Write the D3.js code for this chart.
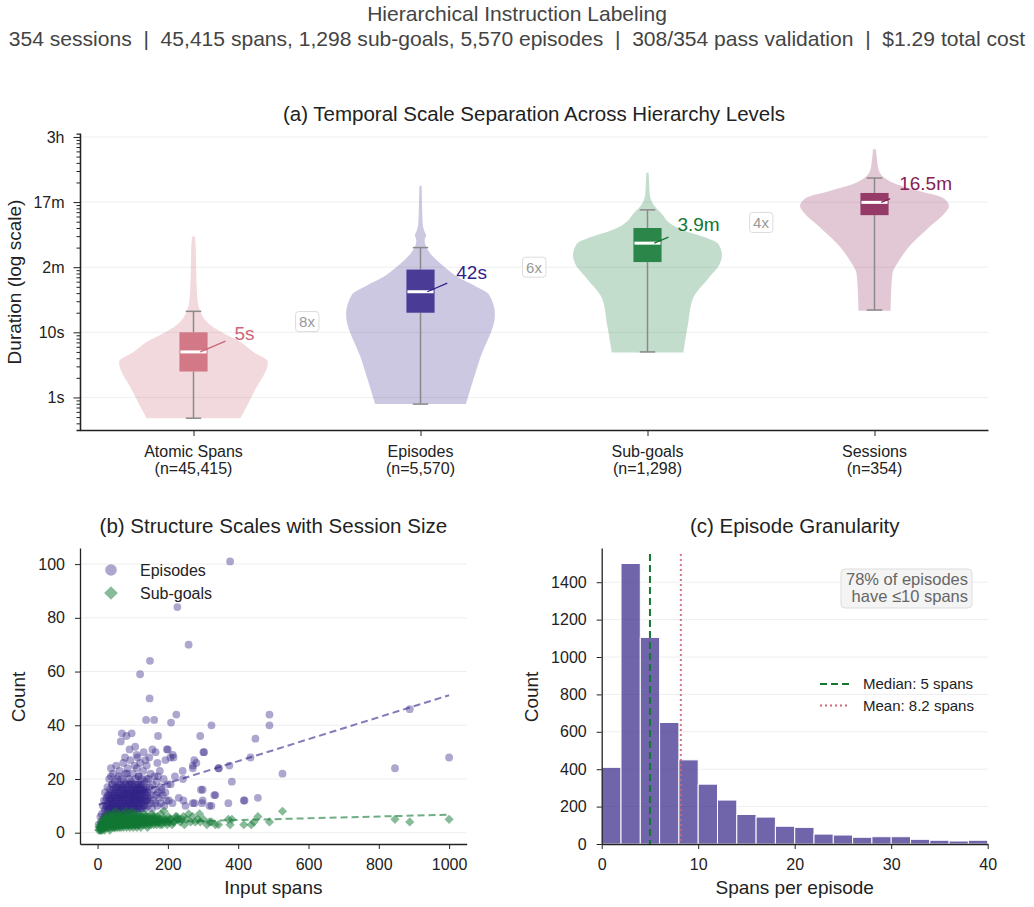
<!DOCTYPE html>
<html>
<head>
<meta charset="utf-8">
<script src="https://cdn.jsdelivr.net/npm/d3@7"></script>
<style>
  body { margin: 0; background: #fff; }
  svg { font-family: 'Liberation Sans', Arial, Helvetica, sans-serif; }
</style>
</head>
<body>
<svg id="chart" width="1034" height="907"></svg>
<script>
/* Chart data
--------------------------------------------------- */
const titleLine = 'Hierarchical Instruction Labeling';
const summaryLine = '354 sessions  |  45,415 spans, 1,298 sub-goals, 5,570 episodes  |  308/354 pass validation  |  $1.29 total cost';

// (a) durations in seconds
const levels = ['Atomic Spans', 'Episodes', 'Sub-goals', 'Sessions'];
const levelCounts = ['(n=45,415)', '(n=5,570)', '(n=1,298)', '(n=354)'];
const levelColors = ['#CC6677', '#332288', '#117733', '#882255'];
const whiskerLow = [0.48, 0.79, 5, 22];
const quartile1 = [2.5, 20, 120, 630];
const medians = [5, 42, 234, 990];
const quartile3 = [10, 92, 400, 1380];
const whiskerHigh = [21, 200, 760, 2340];

// violin outlines: [log10 seconds, relative density]
const atomicProfile = [[-0.32, 0.63], [0.1, 0.82], [0.545, 1.0], [0.7, 0.8], [0.85, 0.63], [1.0, 0.38], [1.1, 0.24], [1.2, 0.15], [1.3, 0.1], [1.45, 0.06], [1.65, 0.045], [2.0, 0.035], [2.3, 0.03], [2.47, 0.02]];
const episodeProfile = [[-0.1, 0.61], [0.6, 0.8], [1.275, 1.0], [1.58, 0.92], [1.72, 0.72], [1.85, 0.5], [1.95, 0.38], [2.05, 0.275], [2.15, 0.18], [2.23, 0.12], [2.33, 0.07], [2.41, 0.055], [2.49, 0.075], [2.56, 0.05], [2.66, 0.03], [2.9, 0.022], [3.25, 0.015]];
const subgoalProfile = [[0.69, 0.48], [1.1, 0.54], [1.52, 0.61], [1.82, 0.81], [2.05, 0.97], [2.18, 1.0], [2.36, 0.95], [2.46, 0.77], [2.56, 0.5], [2.66, 0.32], [2.82, 0.19], [2.97, 0.075], [3.12, 0.03], [3.3, 0.022], [3.45, 0.015]];
const sessionProfile = [[1.33, 0.215], [1.9, 0.24], [2.1, 0.33], [2.31, 0.46], [2.61, 0.73], [2.84, 0.95], [2.94, 1.0], [3.07, 0.91], [3.17, 0.6], [3.28, 0.28], [3.38, 0.125], [3.48, 0.06], [3.63, 0.035], [3.81, 0.02]];
const violinProfiles = [atomicProfile, episodeProfile, subgoalProfile, sessionProfile];

const durationTicks = [1, 10, 100, 1000, 10000];
const durationTickLabels = ['1s', '10s', '2m', '17m', '3h'];

// (b) [input spans, count]
const episodePoints = [
  [377, 101], [227, 84], [259, 70], [149, 64], [121, 59], [148, 50], [138, 42], [161, 42], [224, 44], [209, 41],
  [324, 40], [489, 44], [489, 40], [292, 36], [449, 35], [172, 36], [69, 37], [97, 37], [66, 34], [82, 36],
  [301, 30], [435, 28], [888, 46], [1000, 28], [846, 24], [526, 22], [344, 24], [375, 25], [382, 19], [271, 25],
  [271, 24], [242, 23], [216, 28], [207, 28], [197, 31], [294, 16], [332, 14], [297, 11], [271, 11], [318, 10],
  [372, 11], [416, 12], [456, 13], [244, 12], [213, 11], [91, 31], [107, 32], [131, 30], [156, 31], [200, 31],
  [303, 30], [111, 29], [114, 28], [147, 28], [165, 30], [214, 29], [193, 27], [170, 26], [136, 27], [78, 28],
  [275, 27], [281, 26], [38, 21], [60, 21], [84, 22], [117, 21], [140, 20], [172, 21], [208, 18], [220, 21],
  [243, 20], [345, 24], [180, 17], [57, 17], [41, 18], [94, 18], [117, 18], [142, 14], [72, 16], [101, 14],
  [299, 16], [335, 14], [299, 12], [418, 12], [324, 10], [276, 11], [250, 10], [231, 13], [203, 12], [8, 6], [3, 3],
  [10, 4], [12, 7], [14, 3], [15, 10], [17, 5], [18, 12], [20, 8], [21, 15], [22, 4], [24, 10], [25, 6], [26, 13],
  [28, 17], [29, 8], [30, 11], [31, 5], [32, 14], [33, 20], [34, 9], [35, 16], [36, 7], [37, 12], [38, 24], [39, 10],
  [40, 14], [41, 6], [42, 18], [43, 11], [44, 22], [45, 8], [46, 15], [47, 13], [48, 5], [49, 19], [50, 10], [51, 16],
  [52, 12], [53, 25], [54, 7], [55, 14], [56, 20], [57, 9], [58, 15], [59, 11], [60, 6], [61, 18], [62, 13], [63, 23],
  [64, 8], [65, 16], [66, 10], [67, 14], [68, 20], [69, 7], [70, 12], [71, 17], [72, 9], [73, 26], [74, 13], [75, 19],
  [76, 6], [77, 15], [78, 11], [79, 22], [80, 8], [81, 14], [82, 18], [83, 10], [84, 13], [85, 24], [86, 7], [87, 16],
  [88, 12], [89, 20], [90, 9], [91, 15], [92, 11], [93, 27], [94, 14], [95, 8], [96, 19], [97, 12], [98, 16], [99, 10],
  [100, 22], [101, 13], [102, 7], [103, 17], [104, 11], [105, 25], [106, 15], [107, 9], [108, 20], [109, 13], [110, 16],
  [111, 11], [112, 24], [113, 8], [114, 18], [115, 14], [116, 12], [117, 21], [118, 10], [119, 16], [120, 13], [121, 26],
  [122, 9], [123, 18], [124, 14], [125, 11], [126, 20], [127, 16], [128, 12], [130, 23], [131, 10], [132, 15], [134, 19],
  [135, 13], [136, 9], [138, 17], [139, 12], [140, 25], [142, 15], [143, 10], [145, 20], [146, 13], [148, 17], [150, 11],
  [151, 22], [153, 14], [155, 9], [156, 18], [158, 12], [160, 16], [162, 21], [164, 11], [166, 14], [168, 19], [170, 10],
  [172, 15], [175, 13], [177, 23], [180, 11], [182, 16], [185, 14], [188, 20], [190, 10], [193, 15], [196, 12], [199, 18],
  [20, 6], [22, 9], [24, 12], [26, 7], [27, 10], [29, 14], [30, 4], [31, 9], [33, 12], [34, 6], [35, 10], [36, 13],
  [37, 8], [38, 15], [39, 5], [40, 11], [41, 9], [42, 13], [43, 7], [44, 16], [45, 10], [46, 5], [47, 12], [48, 9],
  [49, 14], [50, 7], [51, 11], [52, 17], [53, 9], [54, 13], [55, 6], [56, 10], [57, 15], [58, 8], [59, 12], [60, 17],
  [61, 10], [62, 6], [63, 14], [64, 11], [65, 8], [66, 13], [67, 18], [68, 11], [69, 15], [70, 9], [71, 13], [72, 6],
  [73, 11], [74, 16], [75, 10], [76, 14], [77, 8], [78, 18], [79, 12], [80, 16], [81, 10], [82, 7], [83, 15], [84, 11],
  [85, 17], [86, 13], [87, 9], [88, 15], [89, 11], [90, 18], [91, 8], [92, 14], [93, 12], [94, 10], [95, 16], [96, 13],
  [97, 9], [98, 18], [99, 14], [100, 11], [101, 16], [102, 9], [103, 13], [104, 15], [105, 11], [106, 18], [107, 13],
  [108, 10], [109, 16], [110, 12], [111, 15], [112, 9], [113, 13], [114, 16], [115, 11], [116, 17], [117, 9], [118, 14],
  [119, 12], [120, 17], [121, 14], [122, 11], [124, 16], [125, 13], [126, 9], [127, 15], [128, 18], [130, 12], [131, 16],
  [133, 10], [135, 15], [137, 12], [139, 16], [141, 12],
];
const subgoalPoints = [
  [3, 1], [5, 2], [6, 1], [8, 3], [9, 2], [10, 1], [11, 4], [12, 2], [13, 3], [14, 1], [15, 5], [16, 2], [17, 3], [18, 4],
  [19, 2], [20, 1], [21, 6], [22, 3], [23, 2], [24, 4], [25, 3], [26, 5], [27, 2], [28, 4], [29, 3], [30, 7], [31, 2],
  [32, 4], [33, 3], [34, 5], [35, 1], [36, 3], [37, 6], [38, 2], [39, 4], [40, 3], [41, 5], [42, 7], [43, 2], [44, 4],
  [45, 3], [46, 6], [47, 2], [48, 5], [49, 3], [50, 4], [51, 8], [52, 2], [53, 5], [54, 3], [55, 6], [56, 4], [57, 2],
  [58, 5], [59, 3], [60, 7], [61, 4], [62, 2], [63, 5], [64, 3], [65, 6], [66, 4], [67, 2], [68, 5], [69, 3], [70, 4],
  [71, 7], [72, 3], [73, 5], [74, 2], [75, 4], [76, 6], [77, 3], [78, 5], [79, 4], [80, 8], [81, 3], [82, 5], [83, 2],
  [84, 4], [85, 6], [86, 3], [87, 5], [88, 4], [89, 7], [90, 3], [91, 5], [92, 2], [93, 6], [94, 4], [95, 3], [96, 5],
  [97, 8], [98, 4], [99, 3], [100, 6], [101, 4], [102, 2], [103, 5], [104, 3], [105, 7], [106, 4], [107, 5], [108, 3],
  [109, 6], [110, 4], [112, 2], [113, 5], [114, 3], [115, 7], [116, 4], [118, 5], [119, 3], [120, 6], [122, 4], [123, 2],
  [124, 5], [126, 3], [127, 6], [128, 4], [130, 5], [131, 3], [133, 7], [134, 4], [136, 5], [137, 3], [139, 6], [140, 4],
  [142, 2], [143, 5], [145, 3], [147, 6], [148, 4], [150, 5], [152, 3], [154, 7], [156, 4], [158, 5], [160, 3], [162, 6],
  [164, 4], [166, 5], [168, 3], [170, 6], [173, 4], [175, 5], [178, 3], [180, 7], [183, 4], [186, 5], [189, 8], [192, 4],
  [195, 5], [198, 3], [201, 6], [204, 4], [208, 5], [212, 3], [217, 4], [222, 6], [226, 6], [230, 5], [235, 4], [240, 5],
  [244, 6], [247, 3], [252, 5], [259, 7], [265, 4], [270, 6], [278, 4], [285, 5], [290, 7], [292, 4], [301, 5], [311, 3],
  [318, 4], [324, 4], [335, 3], [344, 3], [372, 5], [377, 3], [382, 5], [416, 3], [437, 3], [445, 4], [456, 6], [489, 4],
  [526, 8], [846, 5], [888, 4], [1000, 5],
  [7, 2], [9, 1], [11, 3], [13, 2], [15, 3], [17, 4], [19, 3], [21, 2], [23, 4], [25, 5], [27, 3], [29, 4], [31, 5],
  [33, 2], [35, 4], [37, 3], [39, 6], [41, 4], [43, 3], [45, 5], [47, 4], [49, 2], [51, 4], [53, 3], [55, 5], [57, 4],
  [59, 6], [61, 3], [63, 4], [65, 5], [67, 3], [69, 6], [71, 4], [73, 3], [75, 5], [77, 4], [79, 6], [81, 5], [83, 3],
  [85, 4], [87, 6], [89, 3], [91, 4], [93, 5], [95, 6], [97, 3], [99, 5], [101, 5], [103, 4], [105, 5], [107, 3], [109, 5],
  [111, 4], [113, 6], [115, 3], [117, 5], [119, 4], [121, 5], [123, 4], [125, 6], [127, 4], [129, 5], [131, 4], [133, 5],
  [135, 6], [137, 4], [141, 5], [144, 4], [149, 5], [153, 4], [157, 6], [161, 5], [165, 4], [169, 5], [174, 4], [179, 5],
  [184, 3], [190, 5], [197, 4], [205, 5], [215, 4], [225, 5],
];
const episodeTrend = [[3, 10.4], [1000, 51.2]];
const subgoalTrend = [[3, 3.4], [1000, 6.7]];
const countTicks = [0, 20, 40, 60, 80, 100];
const spanTicks = [0, 200, 400, 600, 800, 1000];

// (c) histogram of spans per episode, bins of width 2
const binStarts = [0, 2, 4, 6, 8, 10, 12, 14, 16, 18, 20, 22, 24, 26, 28, 30, 32, 34, 36, 38];
const binCounts = [410, 1500, 1105, 650, 450, 320, 235, 158, 144, 95, 89, 53, 48, 36, 39, 39, 25, 20, 16, 20];
const binWidth = 2;
const medianSpans = 5;
const meanSpans = 8.2;
const histXTicks = [0, 10, 20, 30, 40];
const histYTicks = [0, 200, 400, 600, 800, 1000, 1200, 1400];

/* Shared helpers
--------------------------------------------------- */
const FONT = "'Liberation Sans', Arial, Helvetica, sans-serif";
const INK = '#222';
const GRID = '#eeeeee';
const TICK_SIZE = 16;
const TITLE_SIZE = 20.5;
const LABEL_SIZE = 19;
const svg = d3.select('#chart');

function styleAxis(g) {
  g.attr('font-family', FONT).attr('font-size', TICK_SIZE);
  g.select('.domain').attr('stroke', INK).attr('stroke-width', 1.3);
  g.selectAll('.tick line').attr('stroke', INK).attr('stroke-width', 1);
  g.selectAll('.tick text').attr('fill', INK);
}

function addText(x, y, text, opts = {}) {
  return svg
    .append('text')
    .attr('x', x)
    .attr('y', y)
    .attr('text-anchor', opts.anchor || 'middle')
    .attr('font-size', opts.size || TICK_SIZE)
    .attr('fill', opts.fill || INK)
    .text(text);
}

function addYLabel(x, y, text) {
  svg
    .append('text')
    .attr('transform', `translate(${x},${y}) rotate(-90)`)
    .attr('text-anchor', 'middle')
    .attr('font-size', LABEL_SIZE)
    .attr('fill', INK)
    .text(text);
}

function formatDuration(sec) {
  return sec < 60 ? `${Math.round(sec)}s` : `${(sec / 60).toFixed(1)}m`;
}

/* Suptitle
--------------------------------------------------- */
const summary = addText(517, 46, summaryLine, { size: 18, fill: '#444' }).style('white-space', 'pre');
const summarySize = (18 * 1017) / summary.node().getComputedTextLength();
summary.attr('font-size', summarySize);
addText(517, 21, titleLine, { size: summarySize, fill: '#444' });

/* (a) Temporal scale separation
--------------------------------------------------- */
const a = { left: 80, right: 988, top: 133.7, bottom: 430 };
const xA = d3.scalePoint().domain(levels).range([a.left, a.right]).padding(0.5);
const yA = d3.scaleLog().domain([Math.pow(10, -0.5), Math.pow(10, 4.05)]).range([a.bottom, a.top]);
const step = xA.step();
const halfWidth = d3.scaleLinear().domain([0, 1]).range([0, step * 0.328]);

addText((a.left + a.right) / 2, 121, '(a) Temporal Scale Separation Across Hierarchy Levels', { size: TITLE_SIZE });

svg
  .append('g')
  .selectAll('line')
  .data(durationTicks)
  .enter()
  .append('line')
  .attr('x1', a.left)
  .attr('x2', a.right)
  .attr('y1', d => yA(d))
  .attr('y2', d => yA(d))
  .attr('stroke', GRID);

levels.forEach((level, i) => {
  const cx = xA(level);
  const color = levelColors[i];
  const profile = violinProfiles[i].slice().reverse();

  const violin = d3
    .area()
    .curve(d3.curveMonotoneY)
    .y(d => yA(Math.pow(10, d[0])))
    .x0(d => cx - halfWidth(d[1]))
    .x1(d => cx + halfWidth(d[1]));

  svg
    .append('path')
    .datum(profile)
    .attr('d', violin)
    .attr('fill', color)
    .attr('fill-opacity', 0.25);

  const g = svg.append('g');
  const boxHalf = step * 0.062;
  const capHalf = step * 0.034;

  [[whiskerLow[i], quartile1[i]], [quartile3[i], whiskerHigh[i]]].forEach(([lo, hi]) => {
    g.append('line')
      .attr('x1', cx)
      .attr('x2', cx)
      .attr('y1', yA(lo))
      .attr('y2', yA(hi))
      .attr('stroke', '#8a8a8a')
      .attr('stroke-width', 1.5);
  });
  [whiskerLow[i], whiskerHigh[i]].forEach(v => {
    g.append('line')
      .attr('x1', cx - capHalf)
      .attr('x2', cx + capHalf)
      .attr('y1', yA(v))
      .attr('y2', yA(v))
      .attr('stroke', '#8a8a8a')
      .attr('stroke-width', 1.5);
  });

  g.append('rect')
    .attr('x', cx - boxHalf)
    .attr('width', boxHalf * 2)
    .attr('y', yA(quartile3[i]))
    .attr('height', yA(quartile1[i]) - yA(quartile3[i]))
    .attr('fill', color)
    .attr('fill-opacity', 0.85);

  g.append('line')
    .attr('x1', cx - boxHalf + 1)
    .attr('x2', cx + boxHalf - 1)
    .attr('y1', yA(medians[i]))
    .attr('y2', yA(medians[i]))
    .attr('stroke', '#fff')
    .attr('stroke-width', 3);

  // median annotation with a leader line
  const my = yA(medians[i]);
  const label = g
    .append('text')
    .attr('x', cx + step * 0.225)
    .attr('y', my - 19)
    .attr('dy', '0.35em')
    .attr('text-anchor', 'middle')
    .attr('font-size', 19)
    .attr('fill', color)
    .text(formatDuration(medians[i]));
  const box = label.node().getBBox();
  const sx = cx + step * 0.03;
  const tx = box.x + box.width / 2;
  const ty = my - 19;
  const ex = box.x - 9;
  const t = (ex - sx) / (tx - sx);
  g.append('line')
    .attr('x1', sx)
    .attr('y1', my)
    .attr('x2', ex)
    .attr('y2', my + t * (ty - my))
    .attr('stroke', color)
    .attr('stroke-width', 1.3);
});

// ratio badges between neighbouring medians
d3.pairs(d3.range(levels.length)).forEach(([i, j]) => {
  const x = (xA(levels[i]) + xA(levels[j])) / 2;
  const y = yA(Math.sqrt(medians[i] * medians[j]));
  const g = svg.append('g');
  const txt = g
    .append('text')
    .attr('x', x)
    .attr('y', y)
    .attr('dy', '0.35em')
    .attr('text-anchor', 'middle')
    .attr('font-size', 15)
    .attr('fill', '#999')
    .text(`${Math.round(medians[j] / medians[i])}x`);
  const bb = txt.node().getBBox();
  g.insert('rect', 'text')
    .attr('x', bb.x - 3.5)
    .attr('y', bb.y - 1.5)
    .attr('width', bb.width + 7)
    .attr('height', bb.height + 3)
    .attr('rx', 3)
    .attr('fill', '#fff')
    .attr('fill-opacity', 0.8)
    .attr('stroke', '#dcdcdc');
});

const minorTicks = [];
d3.range(-1, 4).forEach(k => d3.range(2, 10).forEach(m => minorTicks.push(m * Math.pow(10, k))));

svg
  .append('g')
  .attr('transform', `translate(${a.left},0)`)
  .call(d3.axisLeft(yA).tickValues(minorTicks.filter(v => v > yA.domain()[0] && v < yA.domain()[1])).tickSize(3.5).tickFormat(''))
  .call(styleAxis);

svg
  .append('g')
  .attr('transform', `translate(${a.left},0)`)
  .call(
    d3
      .axisLeft(yA)
      .tickValues(durationTicks)
      .tickSize(6.5)
      .tickSizeOuter(0)
      .tickPadding(9)
      .tickFormat((d, i) => durationTickLabels[i]),
  )
  .call(styleAxis);

svg
  .append('g')
  .attr('transform', `translate(0,${a.bottom})`)
  .call(d3.axisBottom(xA).tickSize(6).tickSizeOuter(0).tickFormat(''))
  .call(styleAxis);

levels.forEach((level, i) => {
  const t = svg.append('text').attr('text-anchor', 'middle').attr('font-size', TICK_SIZE).attr('fill', INK);
  t.append('tspan').attr('x', xA(level)).attr('y', 457).text(level);
  t.append('tspan').attr('x', xA(level)).attr('y', 474).text(levelCounts[i]);
});

addYLabel(21, 282, 'Duration (log scale)');

/* (b) Structure scales with session size
--------------------------------------------------- */
const b = { left: 80, right: 466.7, top: 548, bottom: 844 };
const xB = d3.scaleLinear().domain([-50, 1050]).range([b.left, b.right]);
const yB = d3.scaleLinear().domain([-4.2, 106]).range([b.bottom, b.top]);
const diamond = h => `M0,${-h}L${h},0L0,${h}L${-h},0Z`;

addText((b.left + b.right) / 2, 533, '(b) Structure Scales with Session Size', { size: TITLE_SIZE });

svg
  .append('g')
  .selectAll('line')
  .data(countTicks)
  .enter()
  .append('line')
  .attr('x1', b.left)
  .attr('x2', b.right)
  .attr('y1', d => yB(d))
  .attr('y2', d => yB(d))
  .attr('stroke', GRID);

svg
  .append('g')
  .selectAll('circle')
  .data(episodePoints)
  .enter()
  .append('circle')
  .attr('cx', d => xB(d[0]))
  .attr('cy', d => yB(d[1]))
  .attr('r', 3.9)
  .attr('fill', '#332288')
  .attr('fill-opacity', 0.4);

svg
  .append('g')
  .selectAll('path')
  .data(subgoalPoints)
  .enter()
  .append('path')
  .attr('transform', d => `translate(${xB(d[0])},${yB(d[1])})`)
  .attr('d', diamond(4.6))
  .attr('fill', '#117733')
  .attr('fill-opacity', 0.5);

const trendLine = d3
  .line()
  .x(d => xB(d[0]))
  .y(d => yB(d[1]));

svg
  .append('path')
  .datum(episodeTrend)
  .attr('d', trendLine)
  .attr('fill', 'none')
  .attr('stroke', '#332288')
  .attr('stroke-opacity', 0.6)
  .attr('stroke-width', 2)
  .attr('stroke-dasharray', '7,4');

svg
  .append('path')
  .datum(subgoalTrend)
  .attr('d', trendLine)
  .attr('fill', 'none')
  .attr('stroke', '#117733')
  .attr('stroke-opacity', 0.6)
  .attr('stroke-width', 2)
  .attr('stroke-dasharray', '7,4');

svg
  .append('g')
  .attr('transform', `translate(${b.left},0)`)
  .call(d3.axisLeft(yB).tickValues(countTicks).tickSize(5).tickSizeOuter(0).tickPadding(10).tickFormat(d3.format('d')))
  .call(styleAxis);

svg
  .append('g')
  .attr('transform', `translate(0,${b.bottom})`)
  .call(d3.axisBottom(xB).tickValues(spanTicks).tickSize(5).tickSizeOuter(0).tickPadding(10).tickFormat(d3.format('d')))
  .call(styleAxis);

addText((b.left + b.right) / 2, 894, 'Input spans', { size: LABEL_SIZE });
addYLabel(25, 697, 'Count');

// legend
svg.append('circle').attr('cx', 111).attr('cy', 570).attr('r', 5.8).attr('fill', '#332288').attr('fill-opacity', 0.4);
svg
  .append('path')
  .attr('transform', 'translate(111,593)')
  .attr('d', diamond(6.8))
  .attr('fill', '#117733')
  .attr('fill-opacity', 0.5);
addText(140, 570, 'Episodes', { size: 16, anchor: 'start' }).attr('dy', '0.35em');
addText(140, 593, 'Sub-goals', { size: 16, anchor: 'start' }).attr('dy', '0.35em');

/* (c) Episode granularity
--------------------------------------------------- */
const c = { left: 601.7, right: 987.7, top: 548, bottom: 844 };
const xC = d3.scaleLinear().domain([0, 40]).range([c.left, c.right]);
const yC = d3.scaleLinear().domain([0, 1583]).range([c.bottom, c.top]);

addText((c.left + c.right) / 2, 533, '(c) Episode Granularity', { size: TITLE_SIZE });

svg
  .append('g')
  .selectAll('line')
  .data(histYTicks)
  .enter()
  .append('line')
  .attr('x1', c.left)
  .attr('x2', c.right)
  .attr('y1', d => yC(d))
  .attr('y2', d => yC(d))
  .attr('stroke', GRID);

svg
  .append('g')
  .selectAll('rect')
  .data(binStarts)
  .enter()
  .append('rect')
  .attr('x', d => xC(d))
  .attr('width', d => xC(d + binWidth) - xC(d))
  .attr('y', (d, i) => yC(binCounts[i]))
  .attr('height', (d, i) => yC(0) - yC(binCounts[i]))
  .attr('fill', '#332288')
  .attr('fill-opacity', 0.7)
  .attr('stroke', '#fff')
  .attr('stroke-width', 1);

svg
  .append('line')
  .attr('x1', xC(medianSpans))
  .attr('x2', xC(medianSpans))
  .attr('y1', c.top + 6)
  .attr('y2', c.bottom)
  .attr('stroke', '#117733')
  .attr('stroke-width', 2)
  .attr('stroke-dasharray', '7,4');

svg
  .append('line')
  .attr('x1', xC(meanSpans))
  .attr('x2', xC(meanSpans))
  .attr('y1', c.top + 6)
  .attr('y2', c.bottom)
  .attr('stroke', '#CC6677')
  .attr('stroke-opacity', 0.9)
  .attr('stroke-width', 2)
  .attr('stroke-dasharray', '2,3');

svg
  .append('g')
  .attr('transform', `translate(${c.left},0)`)
  .call(d3.axisLeft(yC).tickValues(histYTicks).tickSize(5).tickSizeOuter(0).tickPadding(10).tickFormat(d3.format('d')))
  .call(styleAxis);

svg
  .append('g')
  .attr('transform', `translate(0,${c.bottom})`)
  .call(d3.axisBottom(xC).tickValues(histXTicks).tickSize(5).tickSizeOuter(0).tickPadding(10))
  .call(styleAxis);

addText((c.left + c.right) / 2, 894, 'Spans per episode', { size: LABEL_SIZE });
addYLabel(538, 697, 'Count');

// share annotation
svg
  .append('rect')
  .attr('x', 841)
  .attr('y', 569)
  .attr('width', 131)
  .attr('height', 39)
  .attr('rx', 4)
  .attr('fill', '#f4f4f4')
  .attr('stroke', '#dddddd');
addText(968, 585, '78% of episodes', { size: 16.5, anchor: 'end', fill: '#666' });
addText(968, 602, 'have \u226410 spans', { size: 16.5, anchor: 'end', fill: '#666' });

// legend
svg
  .append('line')
  .attr('x1', 820)
  .attr('x2', 850)
  .attr('y1', 684)
  .attr('y2', 684)
  .attr('stroke', '#117733')
  .attr('stroke-width', 2)
  .attr('stroke-dasharray', '7,4');
svg
  .append('line')
  .attr('x1', 820)
  .attr('x2', 850)
  .attr('y1', 705.5)
  .attr('y2', 705.5)
  .attr('stroke', '#CC6677')
  .attr('stroke-width', 2)
  .attr('stroke-dasharray', '2,3');
addText(863, 684, `Median: ${medianSpans} spans`, { size: 15, anchor: 'start' }).attr('dy', '0.35em');
addText(863, 705.5, `Mean: ${meanSpans} spans`, { size: 15, anchor: 'start' }).attr('dy', '0.35em');
</script>
</body>
</html>
